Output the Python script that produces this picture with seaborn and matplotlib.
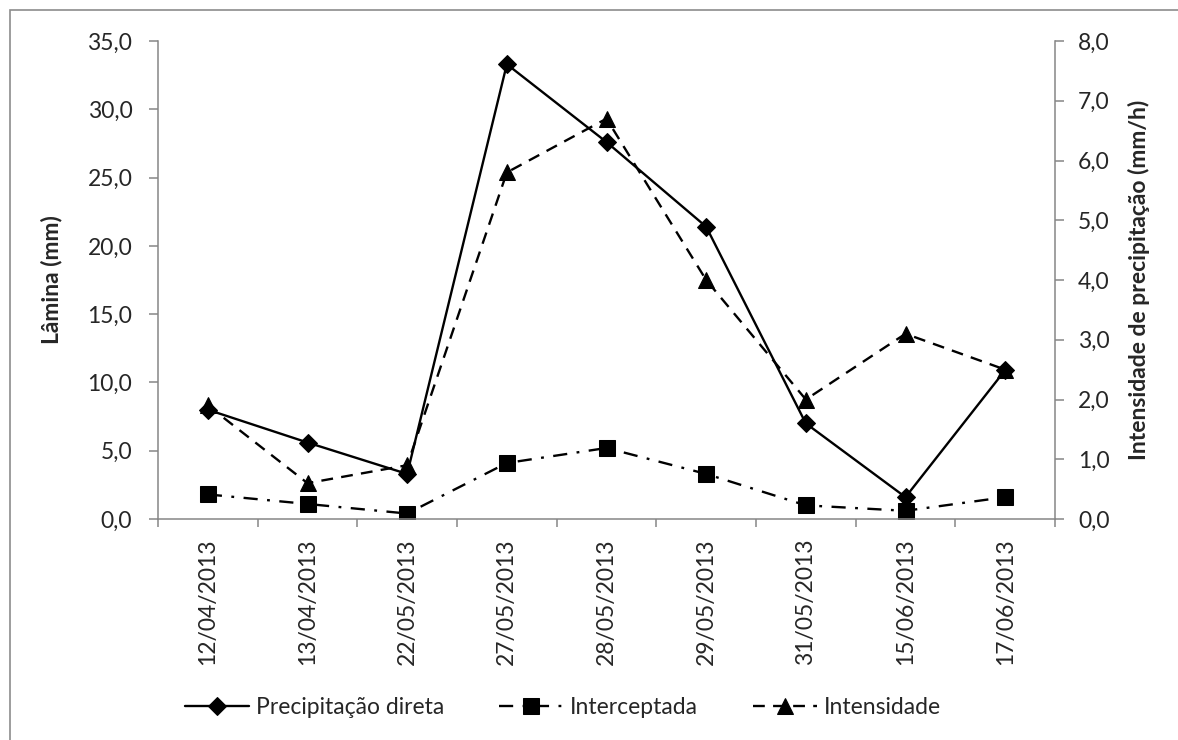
import matplotlib
matplotlib.use("Agg")
import matplotlib.pyplot as plt
import seaborn as sns
import numpy as np
import pandas as pd
from matplotlib.patches import Rectangle
from matplotlib.ticker import FuncFormatter, FixedLocator

# ---- data ----
dates = ["12/04/2013", "13/04/2013", "22/05/2013", "27/05/2013", "28/05/2013",
         "29/05/2013", "31/05/2013", "15/06/2013", "17/06/2013"]
precip_direta = [8.0, 5.6, 3.3, 33.3, 27.6, 21.4, 7.0, 1.6, 10.9]
interceptada = [1.8, 1.1, 0.4, 4.1, 5.2, 3.3, 1.0, 0.6, 1.6]
intensidade = [1.9, 0.6, 0.9, 5.8, 6.7, 4.0, 2.0, 3.1, 2.5]

left_ticks = [0, 5, 10, 15, 20, 25, 30, 35]
right_ticks = [0, 1, 2, 3, 4, 5, 6, 7, 8]

sns.set_theme(style="white")
plt.rcParams['font.family'] = ['Lato', 'DejaVu Sans']

W, H = 1178, 740
fig = plt.figure(figsize=(W / 100, H / 100), dpi=100)
L, R, T, B = 158, 1055, 41, 519
ax = fig.add_axes([L / W, 1 - B / H, (R - L) / W, (B - T) / H])
ax2 = ax.twinx()

df = pd.DataFrame({"pos": np.arange(len(dates)), "date": dates,
                   "precip": precip_direta, "inter": interceptada, "inten": intensidade})

fs = 16.5
sns.lineplot(data=df, x="pos", y="precip", ax=ax, color="black", lw=1.7,
             marker="D", markersize=9, markeredgecolor="black", sort=False,
             linestyle="-", legend=False)
sns.lineplot(data=df, x="pos", y="inter", ax=ax, color="black", lw=1.7,
             marker="s", markersize=11, markeredgecolor="black", sort=False,
             linestyle=(0, (6, 4, 1.2, 4)), legend=False)
sns.lineplot(data=df, x="pos", y="inten", ax=ax2, color="black", lw=1.7,
             marker="^", markersize=11, markeredgecolor="black", sort=False,
             linestyle=(0, (5, 3.5)), legend=False)

fmt = FuncFormatter(lambda v, p: f"{v:.1f}".replace(".", ","))
ax.set_ylim(0, 35)
ax.set_yticks(left_ticks)
ax.yaxis.set_major_formatter(fmt)
ax2.set_ylim(0, 8)
ax2.set_yticks(right_ticks)
ax2.yaxis.set_major_formatter(fmt)

ax.set_xlim(-0.5, len(dates) - 0.5)
ax.set_xticks(df["pos"])
ax.set_xticklabels(dates, rotation=90, fontsize=fs)
ax.xaxis.set_minor_locator(FixedLocator(np.arange(-0.5, len(dates), 1.0)))
ax.tick_params(axis="x", which="major", length=0, pad=14)
ax.tick_params(axis="x", which="minor", length=6, width=1.1, color="#868686", direction="out", bottom=True)
ax.tick_params(axis="y", length=6.5, width=1.1, color="#868686", direction="out", labelsize=fs, pad=12, left=True)
ax2.tick_params(axis="y", length=6.5, width=1.1, color="#868686", direction="out", labelsize=fs, pad=10, right=True)
ax.set_xlabel("")
ax.set_ylabel("Lâmina (mm)", fontsize=fs, fontweight="bold")
ax2.set_ylabel("Intensidade de precipitação (mm/h)", fontsize=fs, fontweight="bold")
ax.yaxis.set_label_coords(-0.107, 0.5)
ax2.yaxis.set_label_coords(1.081, 0.5)

for a in (ax, ax2):
    a.grid(False)
    a.spines["top"].set_visible(False)
    for s in ("left", "right", "bottom"):
        a.spines[s].set_color("#868686")
        a.spines[s].set_linewidth(1.1)
ax.spines["right"].set_visible(False)
ax2.spines["left"].set_visible(False)
ax2.spines["bottom"].set_visible(False)

handles = [ax.lines[0], ax.lines[1], ax2.lines[0]]
labels = ["Precipitação direta", "Interceptada", "Intensidade"]
fig.legend(handles, labels, loc="center", bbox_to_anchor=(563 / W, 1 - 708 / H),
           ncol=3, frameon=False, fontsize=fs, handlelength=2.8, columnspacing=2.4,
           handletextpad=0.3)

fig.add_artist(Rectangle((10 / W, -0.1), 1.2, 1.1 - 10 / H, transform=fig.transFigure,
                         fill=False, edgecolor="#8c8c8c", lw=1.2))

fig.savefig("out.png", dpi=100)
